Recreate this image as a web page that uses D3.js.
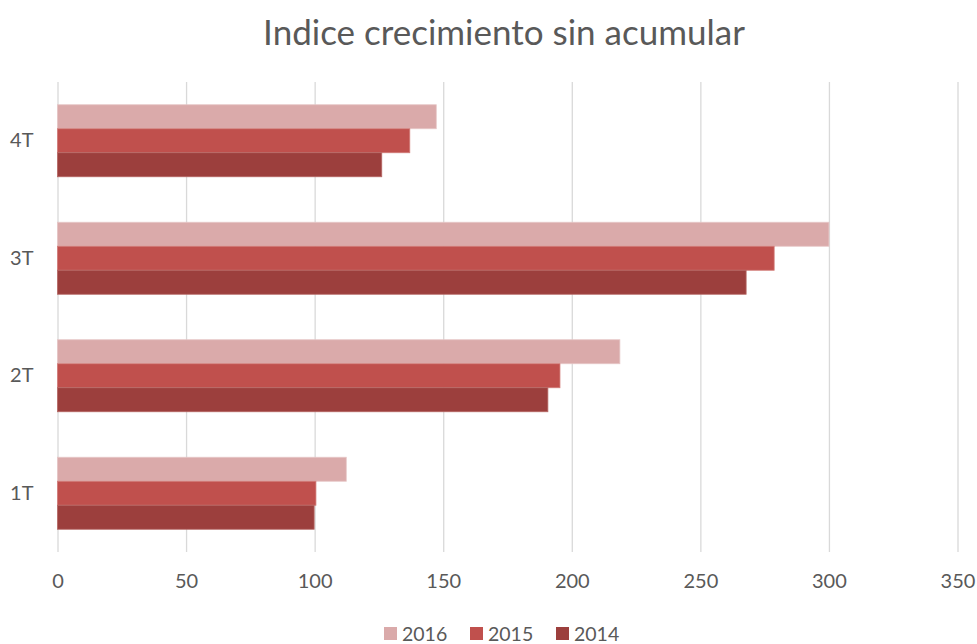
<!DOCTYPE html>
<html><head><meta charset="utf-8">
<script src="https://cdn.jsdelivr.net/npm/d3@7"></script>
<style>body{margin:0;background:#fff}svg{display:block}</style>
</head><body><svg id="c" width="977" height="644"></svg>
<script>
const categories = ["1T","2T","3T","4T"];
const seriesNames = ["2016","2015","2014"];
const values2016 = [112.3, 218.7, 300, 147.3];
const values2015 = [100.5, 195.4, 278.7, 137];
const values2014 = [99.8, 190.7, 267.8, 126.1];
const xTicks = [0,50,100,150,200,250,300,350];
const colors = ["#DAAAAA","#C0504D","#9C3F3D"];
const borders = ["#E6C6C6","#D27C79","#B66865"];
const series = [values2016, values2015, values2014];

const svg = d3.select("#c");
const font = "Lato, 'Open Sans', sans-serif";
const x = d3.scaleLinear().domain([0,350]).range([57.5,957.5]);
const y = d3.scaleBand().domain(categories.slice().reverse()).range([82,552]).paddingInner(0).paddingOuter(0);
const inner = d3.scaleBand().domain(seriesNames).range([0,72]);

svg.append("text").attr("x",504).attr("y",45).attr("text-anchor","middle")
  .attr("font-family",font).attr("font-size",35).attr("fill","#595959").text("Indice crecimiento sin acumular");

const xa = svg.append("g").attr("transform","translate(0,552)")
  .call(d3.axisBottom(x).tickValues(xTicks).tickSize(-470).tickPadding(22));
xa.select(".domain").remove();
xa.selectAll(".tick line").attr("stroke","#D9D9D9").attr("stroke-width",1.3);
xa.selectAll(".tick text").attr("font-family",font).attr("font-size",20).attr("fill","#595959");

const g = svg.append("g");
categories.forEach((c,i)=>{
  const y0 = y(c) + (y.bandwidth()-72)/2;
  seriesNames.forEach((s,j)=>{
    g.append("rect").attr("x",x(0)).attr("y",y0+inner(s)).attr("width",x(series[j][i])-x(0))
     .attr("height",inner.bandwidth()).attr("fill",colors[j]).attr("stroke",borders[j]).attr("stroke-width",0.8);
  });
});

const ya = svg.append("g").attr("transform","translate(57.5,0)").call(d3.axisLeft(y).tickSize(0).tickPadding(24));
ya.select(".domain").remove();
ya.selectAll(".tick text").attr("font-family",font).attr("font-size",20).attr("fill","#595959");

const leg = svg.append("g");
const legX = [384, 470, 556];
seriesNames.forEach((s,j)=>{
  leg.append("rect").attr("x",legX[j]).attr("y",627).attr("width",13).attr("height",13).attr("fill",colors[j]);
  leg.append("text").attr("x",legX[j]+18).attr("y",641).attr("font-family",font).attr("font-size",19.5).attr("fill","#595959").text(s);
});
</script></body></html>
